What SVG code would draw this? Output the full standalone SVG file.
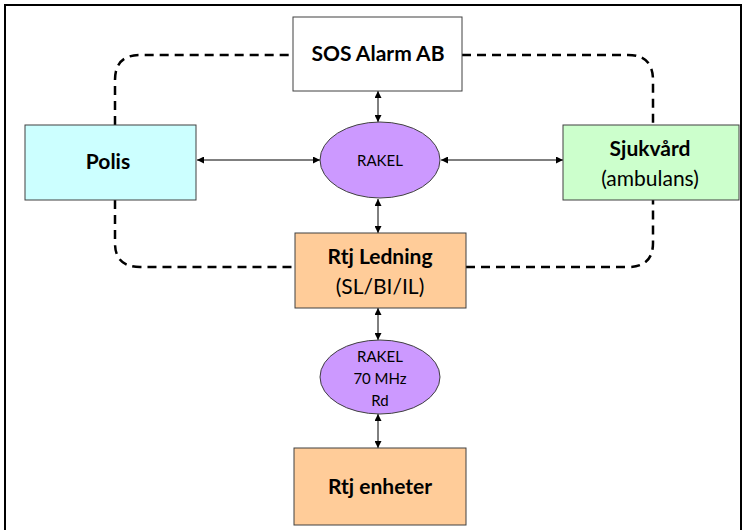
<svg xmlns="http://www.w3.org/2000/svg" width="744" height="530" viewBox="0 0 744 530">
<defs>
<marker id="ah" viewBox="0 0 10 10" refX="10" refY="5" markerWidth="7" markerHeight="7" orient="auto-start-reverse" markerUnits="userSpaceOnUse">
<path d="M0,0 L10,5 L0,10 z" fill="#000"/>
</marker>
<style>
.box{stroke:#404040;stroke-width:1}
.b{font-family:Lato,"Open Sans","Liberation Sans",sans-serif;font-weight:bold;font-size:21px;fill:#000;text-anchor:middle}
.r{font-family:Lato,"Open Sans","Liberation Sans",sans-serif;font-size:21px;fill:#000;text-anchor:middle}
.s{font-family:Lato,"Open Sans","Liberation Sans",sans-serif;font-size:15px;fill:#000;text-anchor:middle}
.dash{fill:none;stroke:#000;stroke-width:2.5;stroke-dasharray:9,6}
.arr{fill:none;stroke:#000;stroke-width:1;marker-start:url(#ah);marker-end:url(#ah)}
</style>
</defs>
<rect x="0" y="0" width="744" height="530" fill="#fff"/>
<rect x="5" y="5" width="736" height="540" fill="none" stroke="#000" stroke-width="2"/>
<g id="connectors">
<path class="dash" d="M115,125 V80 Q115,55 140,55 H293"/>
<path class="dash" d="M462,55 H628 Q653,55 653,80 V125"/>
<path class="dash" d="M115,200 V243 Q115,267 140,267 H295"/>
<path class="dash" d="M466,267 H628 Q653,267 653,243 V200"/>
<line class="arr" x1="378" y1="91" x2="378" y2="122"/>
<line class="arr" x1="197" y1="160" x2="320" y2="160"/>
<line class="arr" x1="441" y1="160" x2="563" y2="160"/>
<line class="arr" x1="378" y1="199" x2="378" y2="233"/>
<line class="arr" x1="378" y1="308" x2="378" y2="340"/>
<line class="arr" x1="378" y1="414" x2="378" y2="448"/>
</g>
<g id="sos">
<rect class="box" x="293" y="17" width="169" height="74" fill="#fff"/>
<text class="b" x="378" y="61">SOS Alarm AB</text>
</g>
<g id="polis">
<rect class="box" x="25" y="125" width="171" height="75" fill="#ccffff"/>
<text class="b" x="108" y="169">Polis</text>
</g>
<g id="rakel">
<ellipse class="box" cx="380" cy="160" rx="60" ry="38" fill="#cc99ff"/>
<text class="s" x="380" y="166">RAKEL</text>
</g>
<g id="sjukvard">
<rect class="box" x="563" y="125" width="176" height="75" fill="#ccffcc"/>
<text class="b" x="650" y="156">Sjukvård</text>
<text class="r" x="650" y="186">(ambulans)</text>
</g>
<g id="rtjledning">
<rect class="box" x="295" y="233" width="171" height="75" fill="#ffcc99"/>
<text class="b" x="380" y="264">Rtj Ledning</text>
<text class="r" x="380" y="294">(SL/BI/IL)</text>
</g>
<g id="rakel70">
<ellipse class="box" cx="380" cy="377" rx="60" ry="37" fill="#cc99ff"/>
<text class="s" x="380" y="362">RAKEL</text>
<text class="s" x="380" y="384">70 MHz</text>
<text class="s" x="380" y="406">Rd</text>
</g>
<g id="rtjenheter">
<rect class="box" x="294" y="448" width="172" height="77" fill="#ffcc99"/>
<text class="b" x="380" y="494">Rtj enheter</text>
</g>
</svg>
